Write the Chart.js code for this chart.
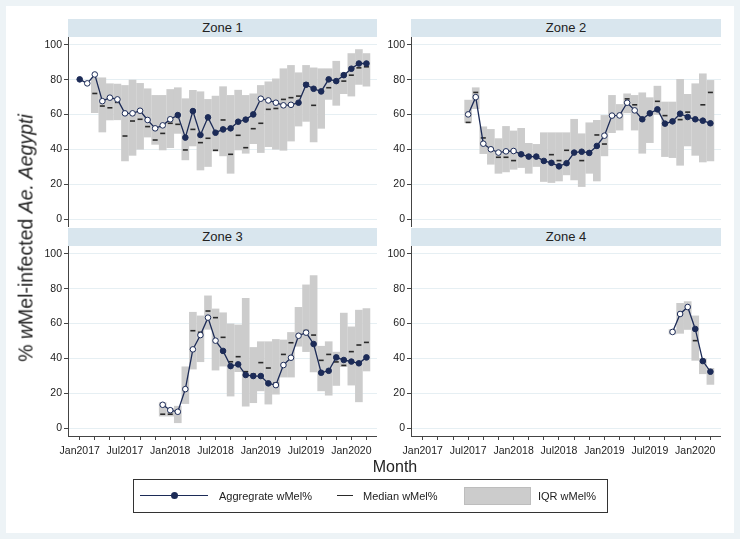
<!DOCTYPE html>
<html>
<head>
<meta charset="utf-8">
<script src="https://cdn.jsdelivr.net/npm/chart.js@4.4.1/dist/chart.umd.min.js"></script>
<style>
  body { margin: 0; background: #fff; font-family: "Liberation Sans", Arial, sans-serif; }
  #fig { position: relative; width: 740px; height: 539px; overflow: hidden; background: #fff;
         box-sizing: border-box; border: 6px solid #edf3f6; }
  #inner { position: absolute; left: -6px; top: -6px; width: 740px; height: 539px; }
  #inner canvas { position: absolute; }
  .hdr { position: absolute; height: 18px; line-height: 18px; background: #d9e6ee; text-align: center; font-size: 13px; color: #222; }
  .txt { position: absolute; color: #222; white-space: nowrap; }
</style>
</head>
<body>
<div id="fig"><div id="inner">
  <div class="hdr" style="left:68px;top:19px;width:309px">Zone 1</div>
  <div class="hdr" style="left:411px;top:19px;width:310px">Zone 2</div>
  <div class="hdr" style="left:68px;top:228px;width:309px">Zone 3</div>
  <div class="hdr" style="left:411px;top:228px;width:310px">Zone 4</div>

  <canvas id="zone1" width="354" height="190" style="left:23px;top:37px"></canvas>
  <canvas id="zone2" width="355" height="190" style="left:366px;top:37px"></canvas>
  <canvas id="zone3" width="354" height="220" style="left:23px;top:246px"></canvas>
  <canvas id="zone4" width="355" height="220" style="left:366px;top:246px"></canvas>

  <div class="txt" style="left:26px;top:238px;font-size:19.5px;transform:translate(-50%,-50%) rotate(-90deg)">% <i>w</i>Mel-infected <i>Ae. Aegypti</i></div>
  <div class="txt" style="left:395px;top:467px;font-size:16px;transform:translate(-50%,-50%)">Month</div>

  <div style="position:absolute;left:133px;top:479px;width:475px;height:34px;border:1px solid #333;box-sizing:border-box;background:#fff"></div>
  <div style="position:absolute;left:140px;top:495px;width:68px;height:0;border-top:1.4px solid #1c2b57"></div>
  <div style="position:absolute;left:171px;top:492px;width:7px;height:7px;border-radius:50%;background:#1c2b57"></div>
  <div class="txt" style="left:219px;top:496px;font-size:11px;transform:translateY(-50%)">Aggregrate wMel%</div>
  <div style="position:absolute;left:337px;top:495px;width:16px;height:0;border-top:1.5px solid #2a2a2a"></div>
  <div class="txt" style="left:363px;top:496px;font-size:11px;transform:translateY(-50%)">Median wMel%</div>
  <div style="position:absolute;left:464px;top:487px;width:67px;height:18px;background:#cccccc;border:1px solid #bdbdbd;box-sizing:border-box"></div>
  <div class="txt" style="left:538px;top:496px;font-size:11px;transform:translateY(-50%)">IQR wMel%</div>
</div></div>

<script>
// months counted from Jan2017 (0) to Mar2020 (38)
const months = [0, 1, 2, 3, 4, 5, 6, 7, 8, 9, 10, 11, 12, 13, 14, 15, 16, 17, 18, 19,
  20, 21, 22, 23, 24, 25, 26, 27, 28, 29, 30, 31, 32, 33, 34, 35, 36, 37, 38];
const tickLabels = ['Jan2017', 'Jul2017', 'Jan2018', 'Jul2018', 'Jan2019', 'Jul2019', 'Jan2020'];

// Zone 1 (from Jan2017)
const z1Start = 0;
const z1Agg = [80.2, 77.9, 83.0, 67.7, 69.7, 68.7, 60.7, 60.7, 62.2, 56.9, 52.1, 53.8, 57.3, 59.7, 46.8,
  62.0, 48.3, 58.4, 49.6, 51.5, 52.1, 55.9, 57.1, 60.1, 69.1, 68.1, 66.8, 65.3, 65.6, 66.8,
  77.1, 74.8, 73.3, 80.2, 79.2, 82.6, 86.3, 89.3, 89.3];
const z1Filled = [1, 0, 0, 0, 0, 0, 0, 0, 0, 0, 0, 0, 0, 1, 1, 1, 1, 1, 1, 1, 1, 1, 1, 1,
  0, 0, 0, 0, 0, 1, 1, 1, 1, 1, 1, 1, 1, 1, 1];
const z1Low = [null, null, 61.1, 50.0, 56.9, 57.0, 33.4, 36.6, 40.1, 47.1, 42.9, 39.7, 41.0, 49.2, 34.0,
  42.0, 28.2, 30.2, 39.1, 36.3, 26.3, 39.7, 37.8, 43.3, 38.2, 41.6, 40.1, 39.5, 44.8, 53.4,
  56.1, 44.3, 52.1, 68.7, 65.3, 72.0, 70.6, 77.3, 76.3];
const z1High = [null, null, 81.1, 81.1, 77.7, 77.5, 76.7, 79.8, 77.9, 74.8, 71.0, 71.0, 74.4, 75.4, 69.1,
  73.9, 73.1, 68.7, 70.6, 76.0, 71.0, 74.0, 71.0, 71.9, 76.7, 78.8, 80.5, 86.3, 88.2, 84.0,
  88.2, 86.8, 86.3, 86.3, 90.6, 84.0, 95.0, 97.3, 95.0];
const z1Median = [null, null, 72.1, 64.9, 63.9, 67.0, 47.7, 56.3, 57.3, 53.1, 45.4, 49.2, 55.0, 54.4, 39.7,
  51.5, 43.9, 46.4, 39.5, 56.9, 37.2, 48.1, 41.0, 51.9, 55.0, 63.0, 63.5, 68.7, 69.7, 70.6,
  78.2, 65.3, 73.5, 75.4, 78.6, 79.2, 82.6, 86.8, 87.4];

// Zone 2 (from Jul2017)
const z2Start = 6;
const z2Agg = [60.1, 70.0, 43.3, 40.1, 38.2, 38.9, 39.1, 37.2, 35.9, 35.9, 33.4, 32.3, 30.3, 32.1,
  38.2, 38.7, 38.0, 42.0, 47.9, 59.4, 59.5, 66.8, 62.4, 57.3, 60.7, 63.0, 54.8, 56.1, 60.5,
  58.6, 57.3, 56.5, 55.0];
const z2Filled = [0, 0, 0, 0, 0, 0, 0, 1, 1, 1, 1, 1, 1, 1, 1, 1, 1, 1, 0, 0, 0, 0, 0,
  1, 1, 1, 1, 1, 1, 1, 1, 1, 1];
const z2Low = [55.3, 63.4, 37.6, 31.5, 26.3, 27.1, 28.6, 29.6, 26.3, 30.2, 21.6, 21.0, 21.9, 25.4,
  22.5, 18.7, 26.3, 21.9, 36.3, 49.6, 51.1, 61.0, 51.1, 37.8, 43.9, 60.0, 35.9, 35.3, 30.9,
  42.0, 36.6, 32.8, 33.4];
const z2High = [68.3, 75.4, 53.0, 51.5, 46.2, 53.2, 50.6, 52.1, 43.5, 42.9, 49.6, 49.6, 49.6, 49.6,
  57.3, 49.0, 55.3, 56.7, 59.5, 71.0, 65.8, 71.9, 71.0, 72.5, 69.7, 76.3, 67.2, 67.2, 80.2,
  71.6, 77.7, 83.4, 79.6];
const z2Median = [55.5, 72.7, 46.6, 40.5, 35.5, 35.5, 33.6, 37.5, 36.5, 35.5, 33.0, 37.0, 33.6, 39.5,
  38.5, 33.6, 38.5, 48.3, 43.1, 59.5, 60.0, 69.0, 65.6, 57.5, 60.5, 67.6, 59.4, 57.0, 57.1,
  61.4, 57.5, 65.6, 72.7];

// Zone 3 (from Dec2017)
const z3Start = 11;
const z3Agg = [13.4, 10.3, 9.4, 22.4, 45.2, 53.4, 63.4, 50.2, 44.3, 35.6, 36.6, 30.5, 29.9, 29.9,
  25.7, 24.7, 36.2, 40.4, 53.0, 54.8, 48.3, 31.8, 32.9, 40.6, 39.1, 38.2, 37.2, 40.6];
const z3Filled = [0, 0, 0, 0, 0, 0, 0, 0, 1, 1, 1, 1, 1, 1, 1, 0, 0, 0, 0, 0,
  1, 1, 1, 1, 1, 1, 1, 1];
const z3Low = [6.9, 6.9, 3.1, 14.1, 33.9, 38.1, 56.7, 33.3, 35.6, 18.4, 32.4, 12.6, 14.6, 21.4,
  13.8, 19.5, 29.3, 29.3, 47.0, 43.9, 32.2, 21.4, 18.9, 24.5, 35.3, 24.7, 15.1, 32.8];
const z3High = [14.6, 11.3, 12.6, 35.2, 66.5, 64.4, 75.9, 68.4, 66.2, 59.8, 59.2, 74.5, 46.3, 49.6,
  49.6, 50.9, 50.6, 54.9, 69.3, 82.2, 87.6, 47.0, 49.6, 43.6, 66.0, 58.1, 67.7, 68.6];
const z3Median = [8.0, 8.0, 9.0, 22.0, 55.9, 55.0, 67.2, 63.4, 52.1, 38.1, 41.0, 32.4, 31.0, 37.6,
  34.5, 26.0, 42.3, 49.0, 53.4, 56.0, 53.4, 38.9, 42.3, 38.0, 36.0, 43.9, 47.7, 49.2];

// Zone 4 (from Oct2019)
const z4Start = 33;
const z4Agg = [55.2, 65.5, 69.5, 56.9, 38.5, 32.4];
const z4Filled = [0, 0, 0, 1, 1, 1];
const z4Low = [54.0, 54.4, 56.6, 38.9, 31.2, 25.1];
const z4High = [56.6, 71.6, 72.6, 64.4, 39.9, 34.3];
const z4Median = [55.2, 65.0, 69.0, 50.2, 38.0, 32.5];

const NAVY = '#1c2b57';
const FONT = 'Liberation Sans, Arial, sans-serif';

function createPanel(id, start, agg, filled, low, high, median, showX) {
  const el = document.getElementById(id);
  const points = [], fills = [], iqr = [], mids = [];
  agg.forEach((v, i) => {
    const m = months[start + i];
    points.push({ x: m, y: v });
    fills.push(filled[i] ? NAVY : '#ffffff');
    if (low[i] != null) iqr.push({ x: m, y: [low[i], high[i]] });
    if (median[i] != null) mids.push({ x: m, y: median[i] });
  });

  new Chart(el.getContext('2d'), {
    type: 'line',
    data: {
      datasets: [
        {
          type: 'bar', data: iqr, order: 3,
          backgroundColor: '#cccccc', borderWidth: 0, barThickness: 7, grouped: false
        },
        {
          type: 'line', data: mids, order: 2, showLine: false,
          pointStyle: 'line', pointRadius: 2.5, pointBorderWidth: 1.6,
          pointBorderColor: '#2a2a2a', borderColor: '#2a2a2a'
        },
        {
          type: 'line', data: points, order: 1,
          borderColor: NAVY, borderWidth: 1.3, tension: 0,
          pointRadius: 2.8, pointBorderWidth: 1,
          pointBackgroundColor: fills, pointBorderColor: NAVY
        }
      ]
    },
    options: {
      responsive: false,
      animation: false,
      layout: { padding: 0, autoPadding: false },
      plugins: { legend: { display: false }, tooltip: { enabled: false } },
      scales: {
        x: {
          type: 'linear', min: -1.55, max: 39.4, offset: false, display: showX,
          grid: { drawOnChartArea: false, tickLength: 4, tickColor: '#444', offset: false },
          border: { color: '#444', width: 1 },
          ticks: {
            autoSkip: false, maxRotation: 0, padding: 5, color: '#222',
            font: { size: 10.5, family: FONT },
            callback: v => (v % 6 === 0 ? tickLabels[v / 6] : '')
          },
          afterBuildTicks: s => { s.ticks = months.filter(m => m % 2 === 0).map(v => ({ value: v })); },
          afterFit: s => {
            if (showX) s.height = 30;
            s.paddingLeft = 0; s.paddingRight = 0;
          }
        },
        y: {
          type: 'linear', min: -4.5, max: 104.5,
          grid: { color: '#e6eff3', tickLength: 4, tickColor: '#444' },
          border: { color: '#444', width: 1 },
          ticks: {
            padding: 2, color: '#222', font: { size: 10.5, family: FONT },
            callback: v => v
          },
          afterBuildTicks: s => { s.ticks = [0, 20, 40, 60, 80, 100].map(v => ({ value: v })); },
          afterFit: s => { s.width = 45; s.paddingTop = 0; s.paddingBottom = 0; }
        }
      }
    }
  });
}

createPanel('zone1', z1Start, z1Agg, z1Filled, z1Low, z1High, z1Median, false);
createPanel('zone2', z2Start, z2Agg, z2Filled, z2Low, z2High, z2Median, false);
createPanel('zone3', z3Start, z3Agg, z3Filled, z3Low, z3High, z3Median, true);
createPanel('zone4', z4Start, z4Agg, z4Filled, z4Low, z4High, z4Median, true);
</script>
</body>
</html>
